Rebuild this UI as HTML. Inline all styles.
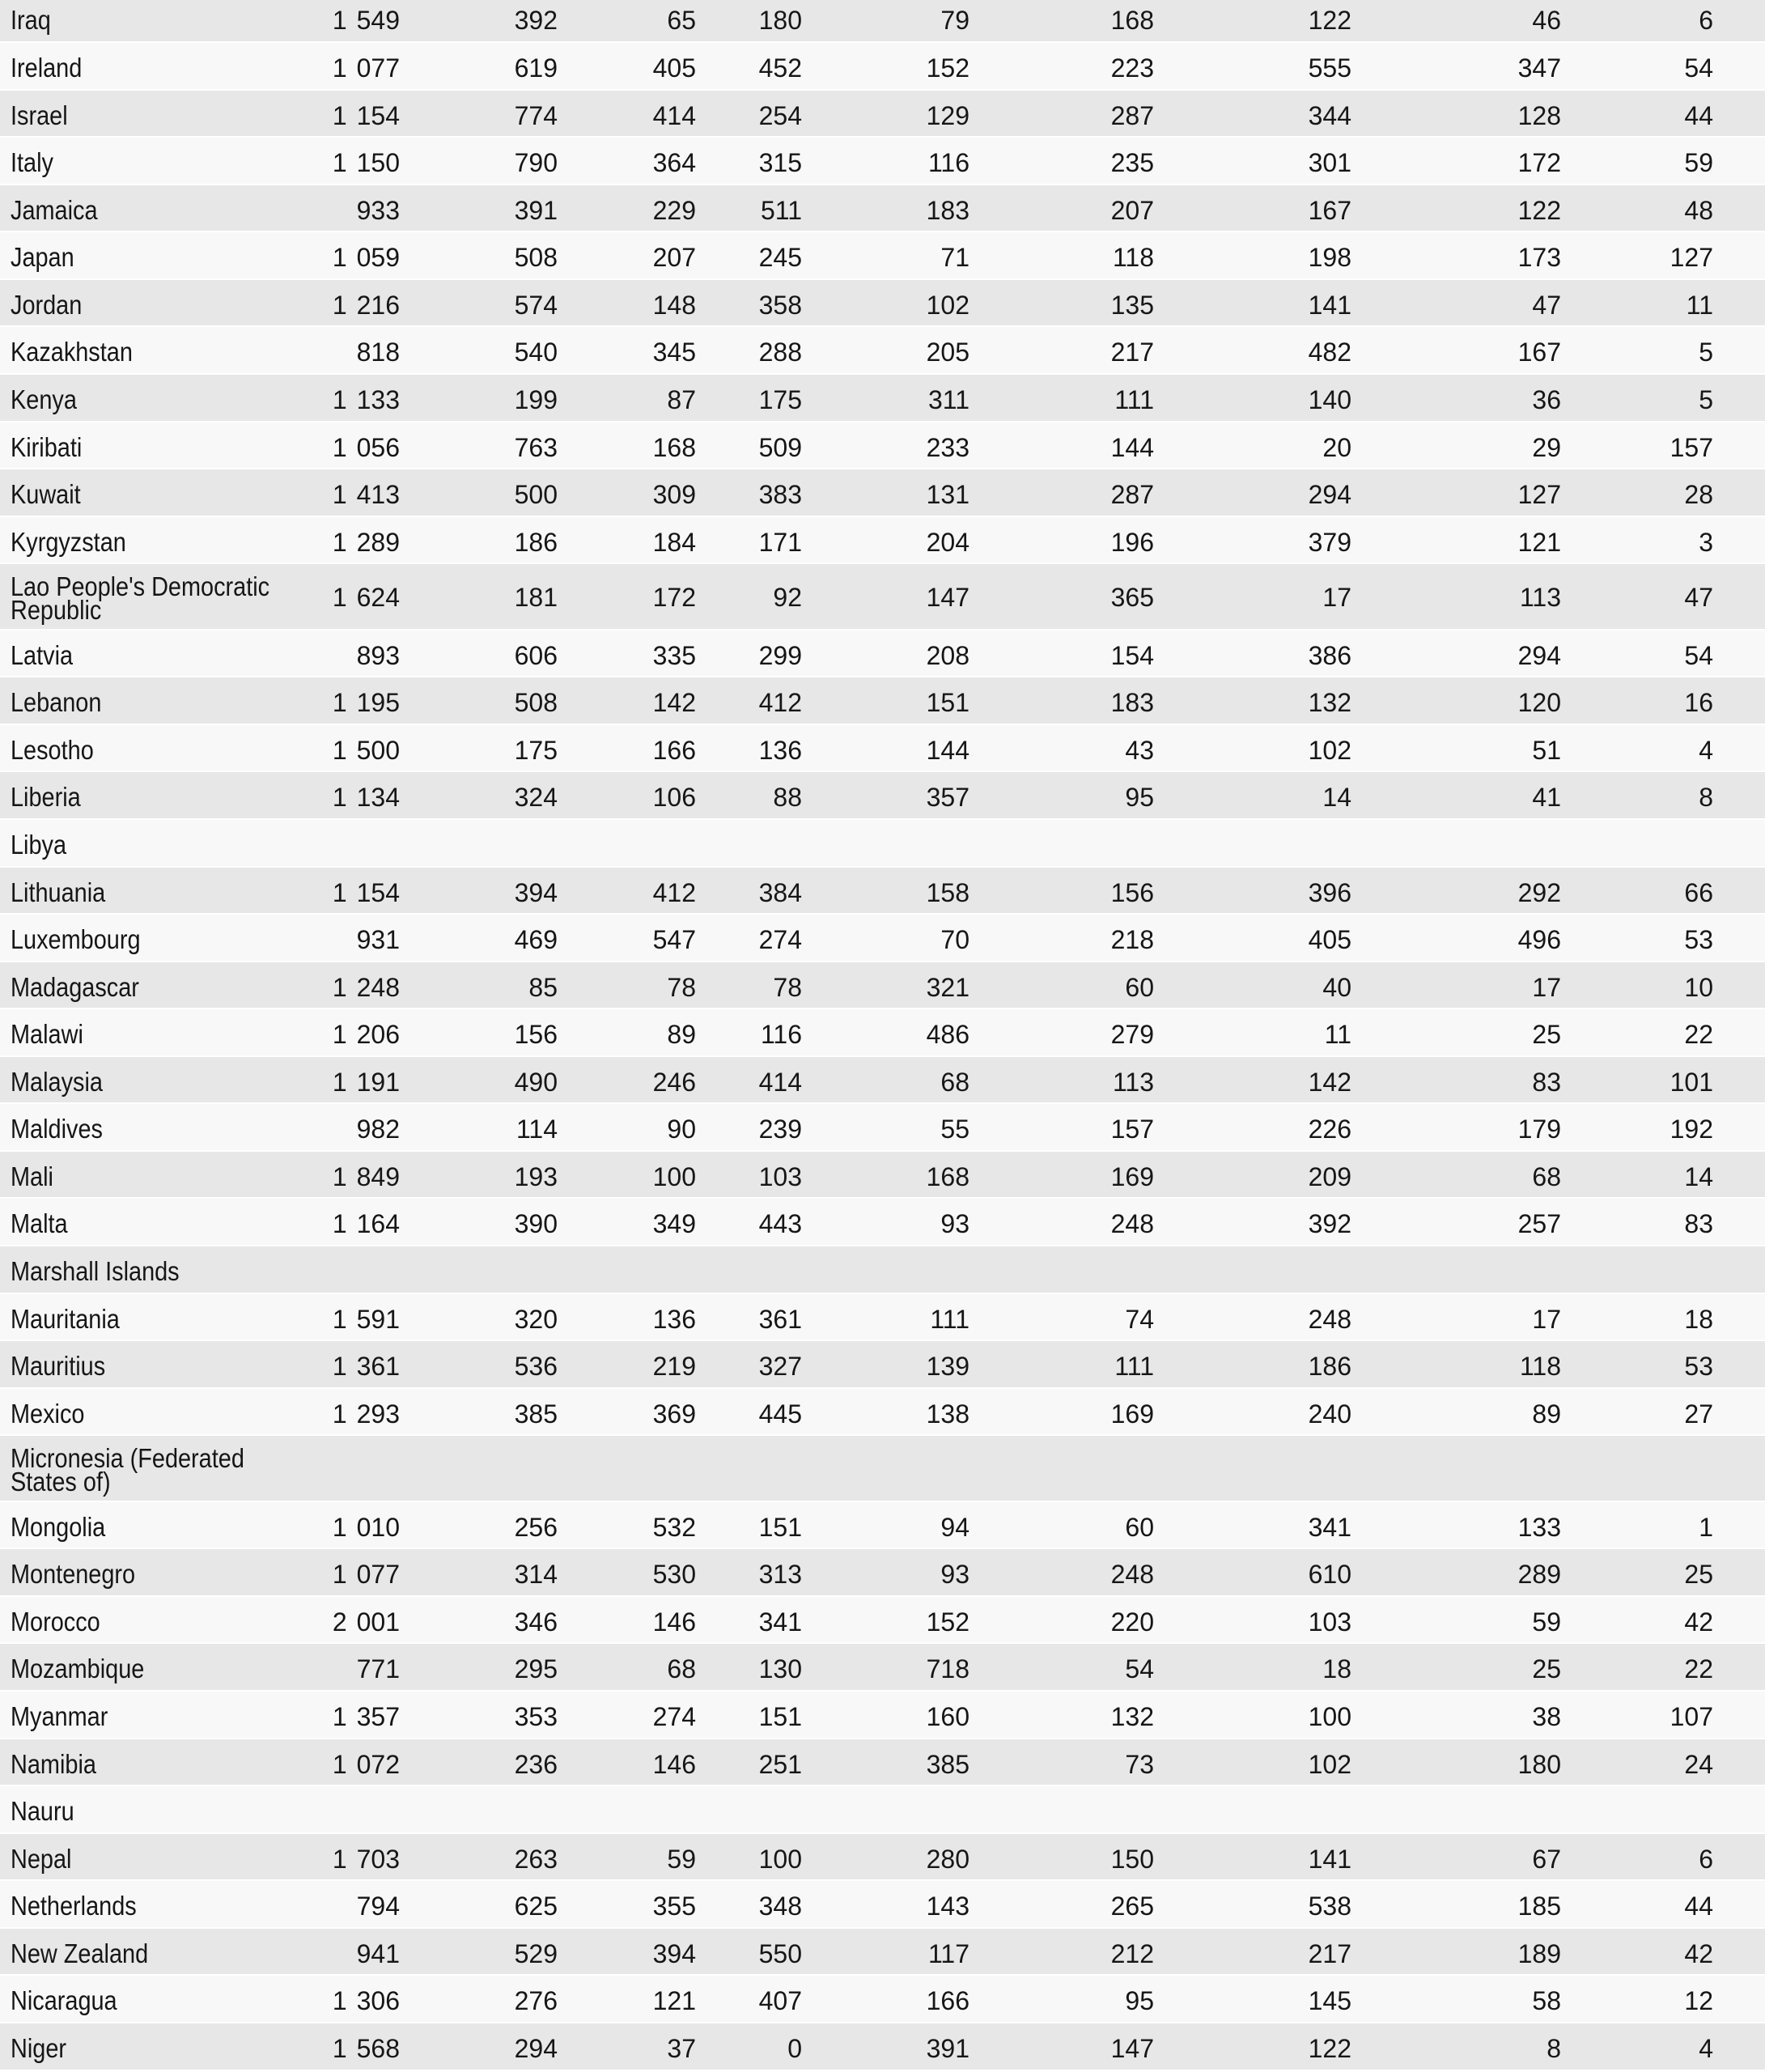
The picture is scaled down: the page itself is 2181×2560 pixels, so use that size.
<!DOCTYPE html>
<html>
<head>
<meta charset="utf-8">
<style>
html,body{margin:0;padding:0;background:#fff;}
body{width:2181px;height:2558px;overflow:hidden;position:relative;font-family:"Liberation Sans",Arial,sans-serif;color:#161616;}
#t{position:absolute;left:0;top:-6.575px;width:2181px;}
.r{position:relative;height:58.575px;box-sizing:border-box;border-top:1px solid #fff;border-bottom:1px solid #fff;line-height:56.575px;}
.d{height:81.5px;line-height:79.5px;}
.g{background:#e7e7e7;}
.w{background:#f8f8f8;}
.r span{position:absolute;top:3px;white-space:nowrap;font-size:32px;}
.d span{top:2px;}
.r span.n{left:13px;font-size:33px;transform:scaleX(0.875);transform-origin:0 50%;}
.d span.n{top:12.75px;line-height:29px;}
.r span:nth-child(2){right:1687px;word-spacing:3px}
.r span:nth-child(3){right:1492px}
.r span:nth-child(4){right:1321px}
.r span:nth-child(5){right:1190px}
.r span:nth-child(6){right:983px}
.r span:nth-child(7){right:755px}
.r span:nth-child(8){right:511px}
.r span:nth-child(9){right:252px}
.r span:nth-child(10){right:64px}
</style>
</head>
<body>
<div id="t">
<div class="r g"><span class="n">Iraq</span><span>1 549</span><span>392</span><span>65</span><span>180</span><span>79</span><span>168</span><span>122</span><span>46</span><span>6</span></div>
<div class="r w"><span class="n">Ireland</span><span>1 077</span><span>619</span><span>405</span><span>452</span><span>152</span><span>223</span><span>555</span><span>347</span><span>54</span></div>
<div class="r g"><span class="n">Israel</span><span>1 154</span><span>774</span><span>414</span><span>254</span><span>129</span><span>287</span><span>344</span><span>128</span><span>44</span></div>
<div class="r w"><span class="n">Italy</span><span>1 150</span><span>790</span><span>364</span><span>315</span><span>116</span><span>235</span><span>301</span><span>172</span><span>59</span></div>
<div class="r g"><span class="n">Jamaica</span><span>933</span><span>391</span><span>229</span><span>511</span><span>183</span><span>207</span><span>167</span><span>122</span><span>48</span></div>
<div class="r w"><span class="n">Japan</span><span>1 059</span><span>508</span><span>207</span><span>245</span><span>71</span><span>118</span><span>198</span><span>173</span><span>127</span></div>
<div class="r g"><span class="n">Jordan</span><span>1 216</span><span>574</span><span>148</span><span>358</span><span>102</span><span>135</span><span>141</span><span>47</span><span>11</span></div>
<div class="r w"><span class="n">Kazakhstan</span><span>818</span><span>540</span><span>345</span><span>288</span><span>205</span><span>217</span><span>482</span><span>167</span><span>5</span></div>
<div class="r g"><span class="n">Kenya</span><span>1 133</span><span>199</span><span>87</span><span>175</span><span>311</span><span>111</span><span>140</span><span>36</span><span>5</span></div>
<div class="r w"><span class="n">Kiribati</span><span>1 056</span><span>763</span><span>168</span><span>509</span><span>233</span><span>144</span><span>20</span><span>29</span><span>157</span></div>
<div class="r g"><span class="n">Kuwait</span><span>1 413</span><span>500</span><span>309</span><span>383</span><span>131</span><span>287</span><span>294</span><span>127</span><span>28</span></div>
<div class="r w"><span class="n">Kyrgyzstan</span><span>1 289</span><span>186</span><span>184</span><span>171</span><span>204</span><span>196</span><span>379</span><span>121</span><span>3</span></div>
<div class="r g d"><span class="n">Lao People's Democratic<br>Republic</span><span>1 624</span><span>181</span><span>172</span><span>92</span><span>147</span><span>365</span><span>17</span><span>113</span><span>47</span></div>
<div class="r w"><span class="n">Latvia</span><span>893</span><span>606</span><span>335</span><span>299</span><span>208</span><span>154</span><span>386</span><span>294</span><span>54</span></div>
<div class="r g"><span class="n">Lebanon</span><span>1 195</span><span>508</span><span>142</span><span>412</span><span>151</span><span>183</span><span>132</span><span>120</span><span>16</span></div>
<div class="r w"><span class="n">Lesotho</span><span>1 500</span><span>175</span><span>166</span><span>136</span><span>144</span><span>43</span><span>102</span><span>51</span><span>4</span></div>
<div class="r g"><span class="n">Liberia</span><span>1 134</span><span>324</span><span>106</span><span>88</span><span>357</span><span>95</span><span>14</span><span>41</span><span>8</span></div>
<div class="r w"><span class="n">Libya</span></div>
<div class="r g"><span class="n">Lithuania</span><span>1 154</span><span>394</span><span>412</span><span>384</span><span>158</span><span>156</span><span>396</span><span>292</span><span>66</span></div>
<div class="r w"><span class="n">Luxembourg</span><span>931</span><span>469</span><span>547</span><span>274</span><span>70</span><span>218</span><span>405</span><span>496</span><span>53</span></div>
<div class="r g"><span class="n">Madagascar</span><span>1 248</span><span>85</span><span>78</span><span>78</span><span>321</span><span>60</span><span>40</span><span>17</span><span>10</span></div>
<div class="r w"><span class="n">Malawi</span><span>1 206</span><span>156</span><span>89</span><span>116</span><span>486</span><span>279</span><span>11</span><span>25</span><span>22</span></div>
<div class="r g"><span class="n">Malaysia</span><span>1 191</span><span>490</span><span>246</span><span>414</span><span>68</span><span>113</span><span>142</span><span>83</span><span>101</span></div>
<div class="r w"><span class="n">Maldives</span><span>982</span><span>114</span><span>90</span><span>239</span><span>55</span><span>157</span><span>226</span><span>179</span><span>192</span></div>
<div class="r g"><span class="n">Mali</span><span>1 849</span><span>193</span><span>100</span><span>103</span><span>168</span><span>169</span><span>209</span><span>68</span><span>14</span></div>
<div class="r w"><span class="n">Malta</span><span>1 164</span><span>390</span><span>349</span><span>443</span><span>93</span><span>248</span><span>392</span><span>257</span><span>83</span></div>
<div class="r g"><span class="n">Marshall Islands</span></div>
<div class="r w"><span class="n">Mauritania</span><span>1 591</span><span>320</span><span>136</span><span>361</span><span>111</span><span>74</span><span>248</span><span>17</span><span>18</span></div>
<div class="r g"><span class="n">Mauritius</span><span>1 361</span><span>536</span><span>219</span><span>327</span><span>139</span><span>111</span><span>186</span><span>118</span><span>53</span></div>
<div class="r w"><span class="n">Mexico</span><span>1 293</span><span>385</span><span>369</span><span>445</span><span>138</span><span>169</span><span>240</span><span>89</span><span>27</span></div>
<div class="r g d"><span class="n">Micronesia (Federated<br>States of)</span></div>
<div class="r w"><span class="n">Mongolia</span><span>1 010</span><span>256</span><span>532</span><span>151</span><span>94</span><span>60</span><span>341</span><span>133</span><span>1</span></div>
<div class="r g"><span class="n">Montenegro</span><span>1 077</span><span>314</span><span>530</span><span>313</span><span>93</span><span>248</span><span>610</span><span>289</span><span>25</span></div>
<div class="r w"><span class="n">Morocco</span><span>2 001</span><span>346</span><span>146</span><span>341</span><span>152</span><span>220</span><span>103</span><span>59</span><span>42</span></div>
<div class="r g"><span class="n">Mozambique</span><span>771</span><span>295</span><span>68</span><span>130</span><span>718</span><span>54</span><span>18</span><span>25</span><span>22</span></div>
<div class="r w"><span class="n">Myanmar</span><span>1 357</span><span>353</span><span>274</span><span>151</span><span>160</span><span>132</span><span>100</span><span>38</span><span>107</span></div>
<div class="r g"><span class="n">Namibia</span><span>1 072</span><span>236</span><span>146</span><span>251</span><span>385</span><span>73</span><span>102</span><span>180</span><span>24</span></div>
<div class="r w"><span class="n">Nauru</span></div>
<div class="r g"><span class="n">Nepal</span><span>1 703</span><span>263</span><span>59</span><span>100</span><span>280</span><span>150</span><span>141</span><span>67</span><span>6</span></div>
<div class="r w"><span class="n">Netherlands</span><span>794</span><span>625</span><span>355</span><span>348</span><span>143</span><span>265</span><span>538</span><span>185</span><span>44</span></div>
<div class="r g"><span class="n">New Zealand</span><span>941</span><span>529</span><span>394</span><span>550</span><span>117</span><span>212</span><span>217</span><span>189</span><span>42</span></div>
<div class="r w"><span class="n">Nicaragua</span><span>1 306</span><span>276</span><span>121</span><span>407</span><span>166</span><span>95</span><span>145</span><span>58</span><span>12</span></div>
<div class="r g"><span class="n">Niger</span><span>1 568</span><span>294</span><span>37</span><span>0</span><span>391</span><span>147</span><span>122</span><span>8</span><span>4</span></div>
</div>
</body>
</html>
